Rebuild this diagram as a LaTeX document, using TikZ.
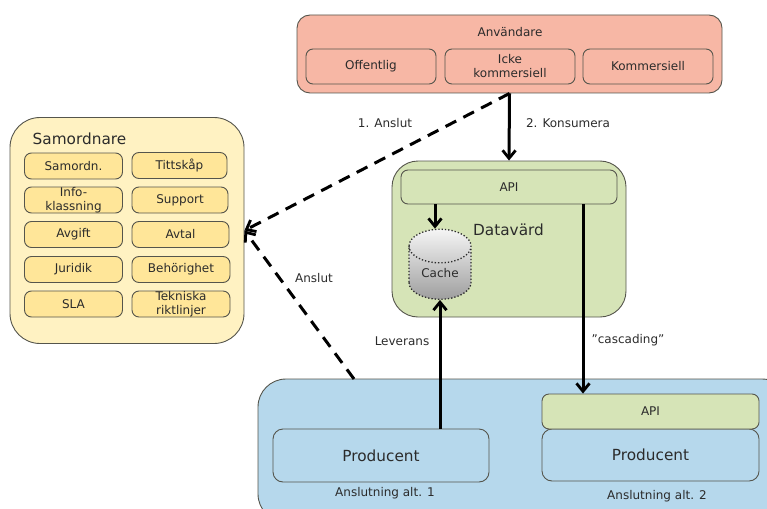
\documentclass[tikz,border=0pt]{standalone}
\usepackage{fontspec}
\setmainfont{DejaVu Sans}
\usetikzlibrary{arrows.meta,shapes.geometric}

\definecolor{salmon}{HTML}{F7B7A5}
\definecolor{cream}{HTML}{FFF2C2}
\definecolor{butter}{HTML}{FFE699}
\definecolor{leaf}{HTML}{D6E4B7}
\definecolor{sky}{HTML}{B6D8EC}
\definecolor{edge}{HTML}{55554C}
\definecolor{ink}{HTML}{2B2B2B}

\tikzset{
    box/.style={draw=edge,line width=.9pt,rounded corners=7pt,inner sep=0pt,align=center,
        text=ink,font=\fontsize{12}{14}\selectfont},
    small/.style={box,fill=butter,minimum height=26pt},
    big/.style={font=\fontsize{15.3}{17}\selectfont,text=ink},
    lbl/.style={font=\fontsize{12}{14}\selectfont,text=ink},
    link/.style={line width=3pt,-{Straight Barb[length=8pt,width=13pt,line width=2.8pt]}},
    loose/.style={link,dash pattern=on 12pt off 8pt}
}

\begin{document}
\begin{tikzpicture}[x=1pt,y=-1pt]
    \useasboundingbox (0,0) rectangle (767,508);
    \clip (0,0) rectangle (767,508);

    % users
    \node[box,fill=salmon,rounded corners=13pt,minimum width=425pt,minimum height=78pt] (anvandare) at (509.5,54) {};
    \node[lbl] (anvandaretitle) at (510,32) {Användare};
    \foreach \name/\x/\txt in {offentlig/371/Offentlig,icke/510/Icke\\kommersiell,kommersiell/648/Kommersiell}
        \node[box,fill=salmon,minimum width=130pt,minimum height=35pt] (\name) at (\x,66.5) {\txt};

    % coordinator
    \node[box,fill=cream,rounded corners=30pt,minimum width=234pt,minimum height=226pt] (samordnare) at (127,230.5) {};
    \node[big] (samordnaretitle) at (79.5,139) {Samordnare};
    \foreach \name/\y/\txt in {samordn/166/Samordn.,info/200/Info-\\klassning,avgift/234.5/Avgift,juridik/269.5/Juridik,sla/304/SLA}
        \node[small,minimum width=98pt] (\name) at (73.5,\y) {\txt};
    \foreach \name/\x/\w/\y/\txt in {tittskap/179.5/95/165.5/Tittskåp,support/180/96/200/Support,avtal/180.5/97/234.5/Avtal,behorighet/181/98/269.5/Behörighet,tekniska/181/98/304/Tekniska\\riktlinjer}
        \node[small,minimum width=\w pt] (\name) at (\x,\y) {\txt};

    % data host
    \node[box,fill=leaf,rounded corners=26pt,minimum width=234pt,minimum height=156pt] (datavard) at (509,239) {};
    \node[box,fill=leaf,minimum width=216pt,minimum height=34pt] (api) at (509,187) {API};
    \node[big] (datavardtitle) at (508.5,230) {Datavärd};
    \node[draw=ink,dotted,line width=1.3pt,cylinder,shape border rotate=90,aspect=.9,minimum width=62pt,minimum height=70pt,
        inner sep=0pt,top color=white!92!gray,bottom color=black!38,text=ink,font=\fontsize{12}{14}\selectfont] (cache) at (440,273) {Cache};

    % producers
    \node[box,fill=sky,rounded corners=28pt,minimum width=532pt,minimum height=143pt] (anslutning) at (524,450.5) {};
    \node[box,fill=sky,rounded corners=10pt,minimum width=216pt,minimum height=53pt,big] (producent) at (381,455.5) {Producent};
    \node[box,fill=sky,rounded corners=10pt,minimum width=217pt,minimum height=52pt,big] (producenttwo) at (650.5,455) {Producent};
    \node[box,fill=leaf,minimum width=217pt,minimum height=35pt] (apitwo) at (650.5,411.5) {API};
    \node[lbl] (altone) at (385,493) {Anslutning alt. 1};
    \node[lbl] (alttwo) at (657,496) {Anslutning alt. 2};

    % free ends
    \coordinate (cachein) at ([xshift=-5pt]cache.north);
    \coordinate (cascade) at ([xshift=74pt]api.south);
    \coordinate (dashstart) at (354,379);

    % connectors
    \draw[link] (anvandare.south) -- (datavard.north);
    \draw[loose] (anvandare.south) -- (samordnare.east);
    \draw[loose] (dashstart) -- (samordnare.east);
    \draw[link] (api.south -| cachein) -- (cachein);
    \draw[link] (producent.north -| cache.south) -- (cache.south);
    \draw[link] (cascade) -- (apitwo.north -| cascade);

    % labels
    \node[lbl] (anslut) at (385,123) {1. Anslut};
    \node[lbl] (konsumera) at (568,123) {2. Konsumera};
    \node[lbl] (anslutlow) at (314,278) {Anslut};
    \node[lbl] (leverans) at (402,341) {Leverans};
    \node[lbl] (cascading) at (628,340) {”cascading”};
\end{tikzpicture}
\end{document}
